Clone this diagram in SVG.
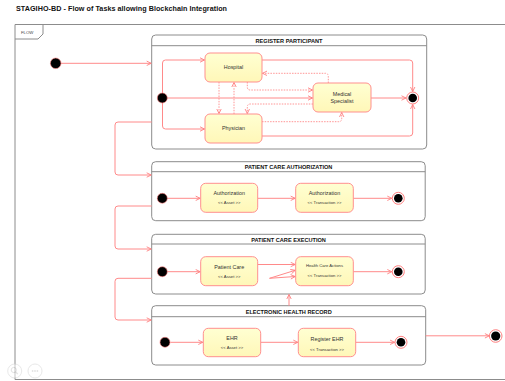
<svg xmlns="http://www.w3.org/2000/svg" width="505" height="381" viewBox="0 0 505 381">
<defs>
<marker id="arr" markerWidth="6" markerHeight="6" refX="5" refY="3" orient="auto" markerUnits="userSpaceOnUse">
<path d="M0.5,0.8 L5,3 L0.5,5.2" fill="none" stroke="#ff8080" stroke-width="0.9"/>
</marker>
<linearGradient id="ng" x1="0" y1="0" x2="0" y2="1">
<stop offset="0" stop-color="#ffffd2"/>
<stop offset="1" stop-color="#fff7b8"/>
</linearGradient>
</defs>
<style>
.frame{fill:none;stroke:#8c8c8c;stroke-width:1}
.box{fill:#ffffff;stroke:#8c8c8c;stroke-width:1}
.hdr{stroke:#8c8c8c;stroke-width:1}
.node{fill:url(#ng);stroke:#ff8f8f;stroke-width:1}
.c{fill:none;stroke:#ff8a8a;stroke-width:1;marker-end:url(#arr)}
.d{fill:none;stroke:#ff8a8a;stroke-width:0.9;stroke-dasharray:1.5,1.2;marker-end:url(#arr)}
.init{fill:#000;stroke:#ff8080;stroke-width:0.6}
.fo{fill:#fff;stroke:#ff8080;stroke-width:1}
.fi{fill:#000}
.t{font-family:"Liberation Sans",Arial,sans-serif;fill:#333;text-anchor:middle}
.bt{font-family:"Liberation Sans",Arial,sans-serif;font-weight:bold;fill:#111;text-anchor:middle;font-size:5.6px}
.n{font-size:5.4px}
.s{font-size:4.2px}
</style>
<text x="16" y="11" font-family="'Liberation Sans',Arial,sans-serif" font-weight="bold" font-size="7.2" fill="#111" textLength="211">STAGIHO-BD - Flow of Tasks allowing Blockchain Integration</text>

<g id="frame">
<path class="frame" d="M15,24.5 H505 M15,24.5 V379.5 H505"/>
<path class="frame" d="M15,39 H38 L43,34 V24.5"/>
<text x="21" y="33.5" font-family="'Liberation Sans',Arial,sans-serif" font-size="4.3" fill="#444">FLOW</text>
</g>

<g id="register-participant">
<rect class="box" x="151.7" y="35" width="275" height="114" rx="4"/>
<line class="hdr" x1="151.7" y1="45.7" x2="426.7" y2="45.7"/>
<text class="bt" x="289" y="43">REGISTER PARTICIPANT</text>
</g>
<g id="patient-care-authorization">
<rect class="box" x="151.7" y="161.7" width="273.5" height="59" rx="4"/>
<line class="hdr" x1="151.7" y1="171.7" x2="425.2" y2="171.7"/>
<text class="bt" x="288.5" y="169.3">PATIENT CARE AUTHORIZATION</text>
</g>
<g id="patient-care-execution">
<rect class="box" x="151.7" y="234.3" width="273.5" height="59.7" rx="4"/>
<line class="hdr" x1="151.7" y1="244" x2="425.2" y2="244"/>
<text class="bt" x="288.5" y="241.8">PATIENT CARE EXECUTION</text>
</g>
<g id="electronic-health-record">
<rect class="box" x="151.7" y="305.7" width="274" height="59.3" rx="4"/>
<line class="hdr" x1="151.7" y1="316.7" x2="425.7" y2="316.7"/>
<text class="bt" x="288.7" y="314">ELECTRONIC HEALTH RECORD</text>
</g>

<g id="connectors">
<path class="c" d="M61,63.3 H151.2"/>
<path class="c" d="M167,98 H312.5"/>
<path class="c" d="M162.5,93 V63 Q162.5,60 165.5,60 H204.5"/>
<path class="c" d="M162.5,103 V126 Q162.5,129 165.5,129 H204.5"/>
<path class="c" d="M262,60 H409.5 Q412.7,60 412.7,63 V91.5"/>
<path class="c" d="M262,136 H409.5 Q412.7,136 412.7,133 V104.5"/>
<path class="c" d="M371,98 H406"/>
<path class="d" d="M219,82 V113.5"/>
<path class="d" d="M234,114 V82.5"/>
<path class="d" d="M247.3,82 V87 Q247.3,90 250.3,90 H312.5"/>
<path class="d" d="M328.3,83 V76.3 Q328.3,73.3 325.3,73.3 H262.5"/>
<path class="d" d="M313,104 H250.3 Q247.3,104 247.3,107 V113.5"/>
<path class="d" d="M262,121.7 H338.7 Q341.7,121.7 341.7,118.7 V112.5"/>
<path class="c" d="M151.7,122 H118 Q115,122 115,125 V172 Q115,175 118,175 H151.2"/>
<path class="c" d="M167.5,198.3 H200.2"/>
<path class="c" d="M257.7,198.3 H295.2"/>
<path class="c" d="M353.3,198.3 H391.8"/>
<path class="c" d="M151.7,206 H118 Q115,206 115,209 V246 Q115,249 118,249 H151.2"/>
<path class="c" d="M167.3,271.7 H200.2"/>
<path class="c" d="M257.7,264.5 H295.2"/>
<path class="c" d="M269.5,278.3 L295.2,270.3"/>
<path class="c" d="M269.5,278.3 L295.2,276.5"/>
<path class="c" d="M353.3,271.7 H391.8"/>
<path class="c" d="M151.7,278.3 H118 Q115,278.3 115,281.3 V317 Q115,320 118,320 H151.2"/>
<path class="c" d="M289,305.7 V294.5"/>
<path class="c" d="M170.3,342.3 H202.8"/>
<path class="c" d="M260.7,342.3 H297.8"/>
<path class="c" d="M355.7,342.3 H394.6"/>
<path class="c" d="M425.7,335.8 H489.4"/>
</g>

<g id="start"><circle class="init" cx="55.7" cy="63.3" r="5.3"/></g>

<g id="rp-initial"><circle class="init" cx="162.3" cy="98" r="5"/></g>
<g id="hospital">
<rect class="node" x="205" y="53" width="57" height="29" rx="5"/>
<text class="t n" x="233.5" y="69.3">Hospital</text>
</g>
<g id="physician">
<rect class="node" x="205" y="114" width="57" height="29" rx="5"/>
<text class="t n" x="233.5" y="130.3">Physician</text>
</g>
<g id="medical-specialist">
<rect class="node" x="313" y="83" width="58" height="29" rx="5"/>
<text class="t n" x="342" y="95.5">Medical</text>
<text class="t n" x="342" y="102.8">Specialist</text>
</g>
<g id="rp-final"><circle class="fo" cx="412.7" cy="98" r="6"/><circle class="fi" cx="412.7" cy="98" r="4.3"/></g>

<g id="pca-initial"><circle class="init" cx="162.3" cy="198.3" r="5"/></g>
<g id="authorization-asset">
<rect class="node" x="200.7" y="183.3" width="57" height="29" rx="5"/>
<text class="t n" x="229.2" y="195.3">Authorization</text>
<text class="t s" x="229.2" y="203.8">&lt;&lt; Asset &gt;&gt;</text>
</g>
<g id="authorization-transaction">
<rect class="node" x="295.7" y="183.3" width="57.6" height="29" rx="5"/>
<text class="t n" x="324.5" y="194.8">Authorization</text>
<text class="t s" x="324.5" y="203.8">&lt;&lt; Transaction &gt;&gt;</text>
</g>
<g id="pca-final"><circle class="fo" cx="398.3" cy="198.3" r="6"/><circle class="fi" cx="398.3" cy="198.3" r="4.3"/></g>

<g id="pce-initial"><circle class="init" cx="162.3" cy="271.7" r="5"/></g>
<g id="patient-care">
<rect class="node" x="200.7" y="256.7" width="57" height="29" rx="5"/>
<text class="t n" x="229.2" y="269">Patient Care</text>
<text class="t s" x="229.2" y="277.5">&lt;&lt; Asset &gt;&gt;</text>
</g>
<g id="health-care-actions">
<rect class="node" x="295.7" y="256.7" width="57.6" height="29" rx="5"/>
<text class="t s" x="324.5" y="267.3">Health Care Actions</text>
<text class="t s" x="324.5" y="276.8">&lt;&lt; Transaction &gt;&gt;</text>
</g>
<g id="pce-final"><circle class="fo" cx="398.3" cy="271.7" r="6"/><circle class="fi" cx="398.3" cy="271.7" r="4.3"/></g>

<g id="ehr-initial"><circle class="init" cx="165" cy="342.3" r="5"/></g>
<g id="ehr">
<rect class="node" x="203.3" y="328.3" width="57.4" height="28.4" rx="5"/>
<text class="t n" x="232" y="340.3">EHR</text>
<text class="t s" x="232" y="348.8">&lt;&lt; Asset &gt;&gt;</text>
</g>
<g id="register-ehr">
<rect class="node" x="298.3" y="328.3" width="57.4" height="28.4" rx="5"/>
<text class="t n" x="327" y="341.3">Register EHR</text>
<text class="t s" x="327" y="351">&lt;&lt; Transaction &gt;&gt;</text>
</g>
<g id="ehr-final"><circle class="fo" cx="401" cy="342.3" r="6"/><circle class="fi" cx="401" cy="342.3" r="4.3"/></g>

<g id="end"><circle class="fo" cx="495.7" cy="336" r="6.3"/><circle class="fi" cx="495.7" cy="336" r="4.6"/></g>

<g id="ui-icons" opacity="0.5">
<circle cx="14.7" cy="371" r="7" fill="#fff" stroke="#d4d4d4" stroke-width="1"/>
<circle cx="13.8" cy="370" r="2.6" fill="none" stroke="#c8c8c8" stroke-width="1"/>
<line x1="15.7" y1="372" x2="17.8" y2="374.2" stroke="#c8c8c8" stroke-width="1.2"/>
<circle cx="35" cy="371" r="7" fill="#fff" stroke="#d4d4d4" stroke-width="1"/>
<circle cx="32.6" cy="371" r="0.9" fill="#c8c8c8"/>
<circle cx="35" cy="371" r="0.9" fill="#c8c8c8"/>
<circle cx="37.4" cy="371" r="0.9" fill="#c8c8c8"/>
</g>
</svg>
